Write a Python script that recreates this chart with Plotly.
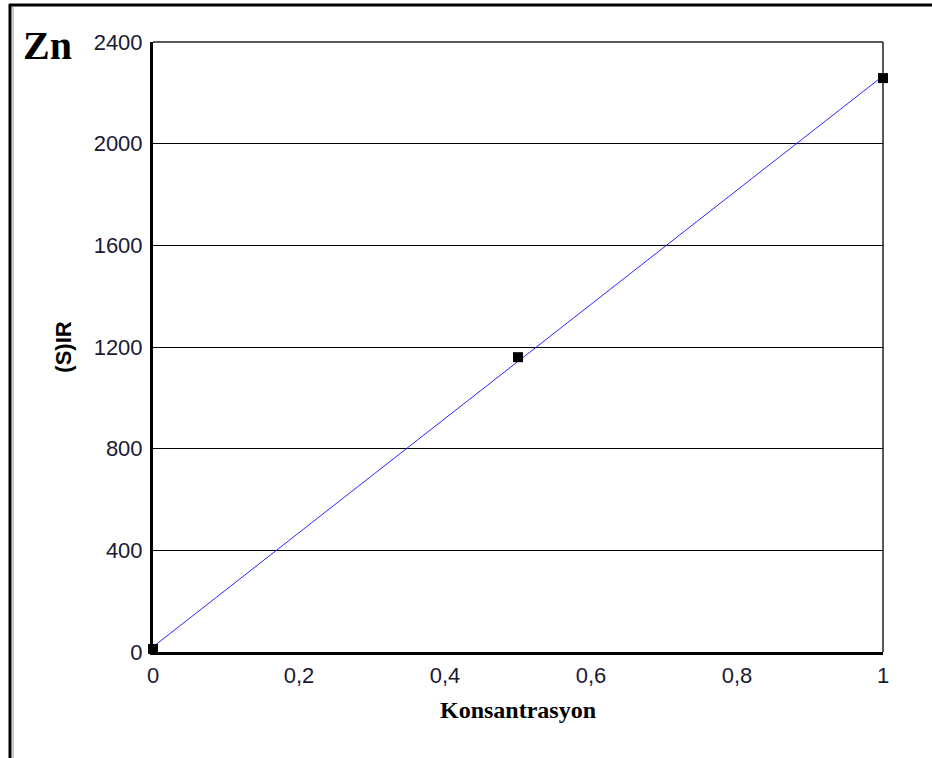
import numpy as np
import plotly.graph_objects as go

# data
konsantrasyon = [0.0, 0.5, 1.0]
ir_s = [12, 1160, 2258]
x_tickvals = [0, 0.2, 0.4, 0.6, 0.8, 1]
x_ticktext = ["0", "0,2", "0,4", "0,6", "0,8", "1"]
y_tickvals = [0, 400, 800, 1200, 1600, 2000, 2400]
y_ticktext = ["0", "400", "800", "1200", "1600", "2000", "2400"]

slope, intercept = np.polyfit(konsantrasyon, ir_s, 1)
fit_x = [min(konsantrasyon), max(konsantrasyon)]
fit_y = [slope * v + intercept for v in fit_x]

W, H = 932, 758
L, R, T, B = 153, 49, 42, 106
pw, ph = W - L - R, H - T - B

fig = go.Figure()
fig.add_trace(go.Scatter(x=fit_x, y=fit_y, mode="lines",
                         line=dict(color="#2828ff", width=1), showlegend=False,
                         hoverinfo="skip", cliponaxis=False))
fig.add_trace(go.Scatter(x=konsantrasyon, y=ir_s, mode="markers",
                         marker=dict(symbol="square", size=10, color="black"),
                         showlegend=False, cliponaxis=False))

def px_x(p):
    return (p - L) / pw

def px_y(p):
    return 1 - (p - T) / ph

shapes = [
    # outer frame (left and top)
    dict(type="line", xref="paper", yref="paper", x0=px_x(10), x1=px_x(10),
         y0=px_y(4), y1=px_y(800), line=dict(color="black", width=3)),
    dict(type="line", xref="paper", yref="paper", x0=px_x(13), x1=px_x(13),
         y0=px_y(7), y1=px_y(800), line=dict(color="#999999", width=1)),
    dict(type="line", xref="paper", yref="paper", x0=px_x(9), x1=px_x(960),
         y0=px_y(5), y1=px_y(5), line=dict(color="black", width=3)),
    # plot area border top/right (thin)
    dict(type="line", xref="paper", yref="paper", x0=0, x1=1, y0=1, y1=1,
         line=dict(color="#222222", width=1.5), layer="below"),
    dict(type="line", xref="paper", yref="paper", x0=1, x1=1, y0=0, y1=1,
         line=dict(color="#222222", width=1.5), layer="below"),
]

fig.update_layout(
    width=W, height=H,
    margin=dict(l=L, r=R, t=T, b=B),
    paper_bgcolor="white", plot_bgcolor="white",
    separators=",.",
    shapes=shapes,
    font=dict(family="Liberation Sans, Arial", size=22, color="#1a1a33"),
    annotations=[
        dict(text="<b>Zn</b>", xref="paper", yref="paper",
             x=px_x(21), y=px_y(45), xanchor="left", yanchor="middle",
             showarrow=False,
             font=dict(family="Liberation Serif, Times New Roman", size=40, color="black")),
    ],
    xaxis=dict(range=[0, 1], tickvals=x_tickvals, ticktext=x_ticktext,
               showgrid=False, zeroline=False, showline=True,
               linecolor="black", linewidth=3, ticks="", mirror=False,
               tickfont=dict(size=22), ticklabelstandoff=2,
               title=dict(text="<b>Konsantrasyon</b>", standoff=14,
                          font=dict(family="Liberation Serif, Times New Roman",
                                    size=24, color="black"))),
    yaxis=dict(range=[0, 2400], tickvals=y_tickvals, ticktext=y_ticktext,
               showgrid=True, gridcolor="black", gridwidth=1,
               zeroline=False, showline=True, linecolor="black", linewidth=3,
               ticks="", tickfont=dict(size=22), ticklabelstandoff=3,
               title=dict(text="<b>(S)IR</b>", standoff=16,
                          font=dict(family="Liberation Sans, Arial", size=22,
                                    color="black"))),
)

fig.write_html("out.html")
